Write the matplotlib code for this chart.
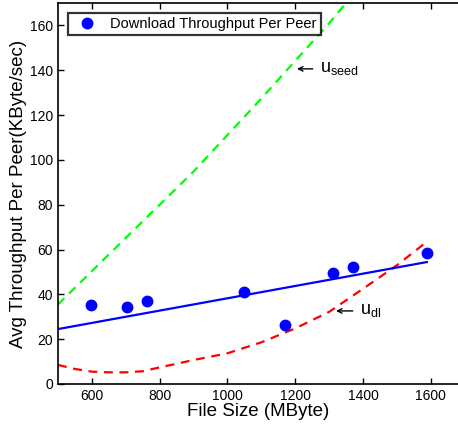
import matplotlib.pyplot as plt
import numpy as np

plt.rcParams['font.family'] = ['Liberation Sans', 'DejaVu Sans']
plt.rcParams['mathtext.default'] = 'regular'

# measured throughput per peer
file_size = np.array([598, 705, 762, 1048, 1170, 1310, 1370, 1590])
throughput = np.array([35.3, 34.5, 37.2, 41.2, 26.4, 49.7, 52.0, 58.5])

# fitted line
fit_x = np.array([500, 1588])
fit_y = np.array([24.5, 54.4])

# u_seed curve
seed_x = np.array([500, 700, 900, 1100, 1300, 1400])
seed_y = np.array([35.5, 65.2, 94.8, 127.4, 161.0, 179.0])

# u_dl curve
dl_x = np.array([500, 550, 600, 650, 700, 750, 800, 900, 1000, 1100, 1200, 1300, 1400, 1500, 1580])
dl_y = np.array([8.5, 6.7, 5.5, 5.2, 5.2, 5.7, 7.4, 10.7, 13.7, 18.6, 24.8, 32.2, 42.5, 53.0, 62.5])

fig = plt.figure(figsize=(4.58, 4.25), dpi=100)
ax = fig.add_axes([0.1266, 0.0965, 0.8734, 0.8965])

ax.plot(seed_x, seed_y, '--', color=(0, 1, 0), lw=1.6, dashes=(4, 3))
ax.plot(dl_x, dl_y, '--', color=(1, 0, 0), lw=1.6, dashes=(4, 3))
ax.plot(fit_x, fit_y, '-', color=(0, 0, 1), lw=1.6)
ax.plot(file_size, throughput, 'o', color=(0, 0, 1), ms=7.5,
        label='Download Throughput Per Peer')

arrow = dict(arrowstyle='->', lw=1, color='black', shrinkA=3, shrinkB=0,
             mutation_scale=8)
ax.annotate('u$_{seed}$', xy=(1205, 140.6), xytext=(1272, 140.6), fontsize=13,
            va='center', ha='left', arrowprops=arrow)
ax.annotate('u$_{dl}$', xy=(1320, 32.6), xytext=(1390, 32.6), fontsize=13,
            va='center', ha='left', arrowprops=arrow)

ax.set_xlim(500, 1680)
ax.set_ylim(0, 170)
ax.set_xticks([600, 800, 1000, 1200, 1400, 1600])
ax.set_yticks(np.arange(0, 161, 20))
ax.tick_params(direction='in', length=4, width=1, labelsize=10, top=True, right=False)
ax.spines['right'].set_visible(False)
for s in ['left', 'bottom', 'top']:
    ax.spines[s].set_linewidth(1.2)

ax.set_xlabel('File Size (MByte)', fontsize=13.5, labelpad=0)
ax.set_ylabel('Avg Throughput Per Peer(KByte/sec)', fontsize=13.5, labelpad=2)

leg = ax.legend(loc='upper left', fontsize=10.5, frameon=True, fancybox=False,
                borderpad=0.3, handletextpad=0.6, bbox_to_anchor=(0.025, 0.975),
                borderaxespad=0)
leg.get_frame().set_edgecolor('black')
leg.get_frame().set_linewidth(1.6)

fig.savefig('out.png', dpi=100)
